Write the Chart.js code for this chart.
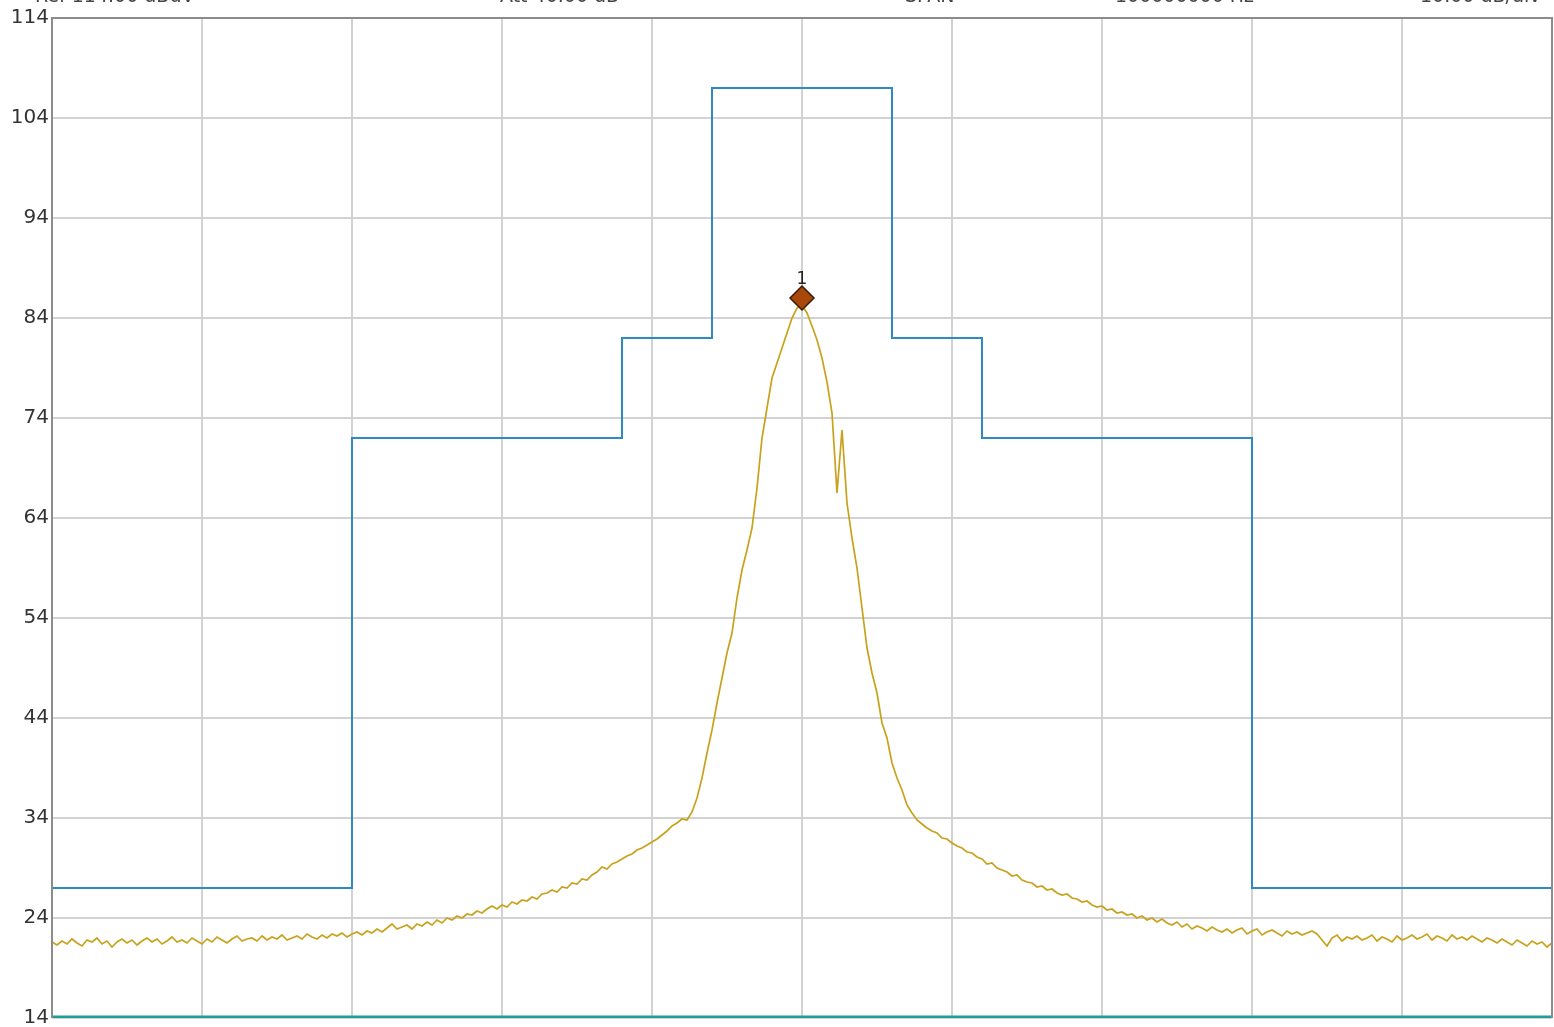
<!DOCTYPE html>
<html>
<head>
<meta charset="utf-8">
<title>Spectrum trace</title>
<script src="https://cdn.jsdelivr.net/npm/chart.js@4.4.1/dist/chart.umd.min.js"></script>
<style>
  html, body { margin: 0; padding: 0; background: #fff; overflow: hidden; }
  canvas { display: block; }
</style>
</head>
<body>
<canvas id="spectrum" width="1554" height="1027"></canvas>
<script>
// ==== Spectrum trace with limit mask ====

// y axis (dBuV)
const yTicks = [14, 24, 34, 44, 54, 64, 74, 84, 94, 104, 114];

// header readouts (clipped at the top of the screen)
const headerTexts = ["Ref 114.00 dBuV", "Att 40.00 dB", "SPAN", "100000000 Hz", "10.00 dB/div"];

// trace samples, one every 5 steps across the 0..1500 span
const traceStep = 5;
const traceLevels = [
  21.6, 21.3, 21.7, 21.4, 21.9, 21.5, 21.2, 21.8, 21.6, 22.0, 21.4, 21.7, 21.1, 21.6, 21.9, 21.5, 21.8, 21.3, 21.7, 22.0,
  21.6, 21.9, 21.4, 21.7, 22.1, 21.6, 21.8, 21.5, 22.0, 21.7, 21.4, 21.9, 21.6, 22.1, 21.8, 21.5, 21.9, 22.2, 21.7, 21.9,
  22.0, 21.7, 22.2, 21.8, 22.1, 21.9, 22.3, 21.8, 22.0, 22.2, 21.9, 22.4, 22.1, 21.9, 22.3, 22.0, 22.4, 22.2, 22.5, 22.1,
  22.4, 22.6, 22.3, 22.7, 22.5, 22.9, 22.6, 23.0, 23.4, 22.9, 23.1, 23.3, 22.9, 23.4, 23.2, 23.6, 23.3, 23.8, 23.5, 24.0,
  23.8, 24.2, 24.0, 24.4, 24.3, 24.7, 24.5, 24.9, 25.2, 24.9, 25.3, 25.1, 25.6, 25.4, 25.8, 25.7, 26.1, 25.9, 26.4, 26.5,
  26.8, 26.6, 27.1, 27.0, 27.5, 27.4, 27.9, 27.8, 28.3, 28.6, 29.1, 28.9, 29.4, 29.6, 29.9, 30.2, 30.4, 30.8, 31.0, 31.3,
  31.6, 31.9, 32.3, 32.7, 33.2, 33.5, 33.9, 33.8, 34.6, 36.0,
  38.0, 40.5, 42.8, 45.5, 48.0, 50.5, 52.5, 56.0, 58.8, 60.8,
  63.0, 67.0, 72.0, 75.0, 78.0, 79.5, 81.0, 82.5, 84.0, 85.0,
  85.3, 84.5, 83.2, 81.8, 80.0, 77.6, 74.5, 66.5, 72.8, 65.5,
  62.0, 59.0, 55.0, 51.0, 48.5, 46.5, 43.5, 42.0, 39.5, 38.0,
  36.8, 35.3, 34.5, 33.8, 33.4,
  33.0, 32.7, 32.5, 32.0, 31.9, 31.5, 31.2, 31.0, 30.6, 30.5, 30.1, 29.9, 29.4, 29.5, 29.0, 28.8, 28.6, 28.2, 28.3, 27.8,
  27.6, 27.5, 27.1, 27.2, 26.8, 26.9, 26.5, 26.3, 26.4, 26.0, 25.9, 25.6, 25.7, 25.3, 25.1, 25.2, 24.8, 24.9, 24.5, 24.6,
  24.3, 24.4, 24.0, 24.2, 23.8, 24.0, 23.6, 23.9, 23.5, 23.3, 23.6, 23.1, 23.4, 22.9, 23.2, 23.0, 22.7, 23.1, 22.8, 22.6,
  22.9, 22.5, 22.8, 23.0, 22.4, 22.7, 22.9, 22.3, 22.6, 22.8, 22.5, 22.2, 22.7, 22.4, 22.6, 22.3, 22.5, 22.7, 22.4, 21.8,
  21.2, 22.0, 22.3, 21.7, 22.1, 21.9, 22.2, 21.8, 22.0, 22.3, 21.7, 22.1, 21.9, 21.6, 22.2, 21.8, 22.0, 22.3, 21.9, 22.1,
  22.4, 21.8, 22.2, 22.0, 21.7, 22.3, 21.9, 22.1, 21.8, 22.2, 21.9, 21.6, 22.0, 21.8, 21.5, 21.9, 21.6, 21.3, 21.8, 21.5,
  21.2, 21.7, 21.4, 21.6, 21.1, 21.5
];

// limit mask corners
const maskX = [0, 300, 300, 570, 570, 660, 660, 840, 840, 930, 930, 1200, 1200, 1500];
const maskY = [27, 27, 72, 72, 82, 82, 107, 107, 82, 82, 72, 72, 27, 27];

// floor line and small end flag
const floorX = [0, 1500];
const floorY = [14, 14];
const flagX = [1478, 1500];
const flagY = [13.8, 13.8];

// marker 1
const markerX = 750;
const markerY = 86;
const markerLabel = "1";

const tracePoints = traceLevels.map((v, i) => ({ x: i * traceStep, y: v }));
const pairs = (xs, ys) => xs.map((x, i) => ({ x: x, y: ys[i] }));

// frame + header + marker number
const decorPlugin = {
  id: "decor",
  afterDraw(chart) {
    const { ctx, chartArea: a, scales } = chart;
    ctx.save();
    ctx.strokeStyle = "#8c8c8c";
    ctx.lineWidth = 2;
    ctx.beginPath();
    ctx.moveTo(a.left, a.bottom);
    ctx.lineTo(a.left, a.top);
    ctx.lineTo(a.right, a.top);
    ctx.lineTo(a.right, a.bottom);
    ctx.stroke();

    ctx.fillStyle = "#222";
    ctx.font = "17px 'DejaVu Sans'";
    ctx.textAlign = "center";
    ctx.textBaseline = "bottom";
    ctx.fillText(markerLabel, scales.x.getPixelForValue(markerX), scales.y.getPixelForValue(markerY) - 10);

    ctx.font = "19px 'DejaVu Sans'";
    ctx.textAlign = "left";
    ctx.textBaseline = "alphabetic";
    ctx.fillStyle = "#444";
    const hx = [35, 500, 905, 1115, 1420];
    headerTexts.forEach((t, i) => ctx.fillText(t, hx[i], 2));
    ctx.restore();
  }
};

new Chart(document.getElementById("spectrum"), {
  type: "line",
  data: {
    datasets: [
      {
        data: pairs(floorX, floorY),
        borderColor: "#1f9e9a",
        borderWidth: 5,
        pointRadius: 0,
        order: 4
      },
      {
        data: pairs(flagX, flagY),
        borderColor: "#2f6fd6",
        borderWidth: 3,
        pointRadius: 0,
        order: 0
      },
      {
        data: pairs(maskX, maskY),
        borderColor: "#2f8ac2",
        borderWidth: 2,
        pointRadius: 0,
        order: 3
      },
      {
        data: tracePoints,
        borderColor: "#c9a21c",
        borderWidth: 1.7,
        pointRadius: 0,
        order: 2
      },
      {
        data: [{ x: markerX, y: markerY }],
        showLine: false,
        pointStyle: "rectRot",
        pointRadius: 12,
        pointBackgroundColor: "#a8480a",
        pointBorderColor: "#3a1c05",
        pointBorderWidth: 1.5,
        order: 1
      }
    ]
  },
  options: {
    responsive: false,
    animation: false,
    layout: { autoPadding: false, padding: { top: 18, right: 2, bottom: 0, left: 0 } },
    plugins: { legend: { display: false }, tooltip: { enabled: false } },
    scales: {
      x: {
        type: "linear",
        min: 0,
        max: 1500,
        ticks: { display: false, stepSize: 150 },
        grid: { color: "#d2d2d2", lineWidth: 2, drawTicks: false },
        border: { display: false },
        afterFit: (s) => { s.height = 9; }
      },
      y: {
        min: yTicks[0],
        max: yTicks[yTicks.length - 1],
        afterBuildTicks: (s) => { s.ticks = yTicks.map(v => ({ value: v })); },
        ticks: { color: "#333", font: { family: "DejaVu Sans", size: 20 }, padding: 3 },
        grid: { color: "#d2d2d2", lineWidth: 2, drawTicks: false },
        border: { display: false },
        afterFit: (s) => { s.width = 52; s.paddingTop = 0; s.paddingBottom = 0; }
      }
    }
  },
  plugins: [decorPlugin]
});
</script>
</body>
</html>
